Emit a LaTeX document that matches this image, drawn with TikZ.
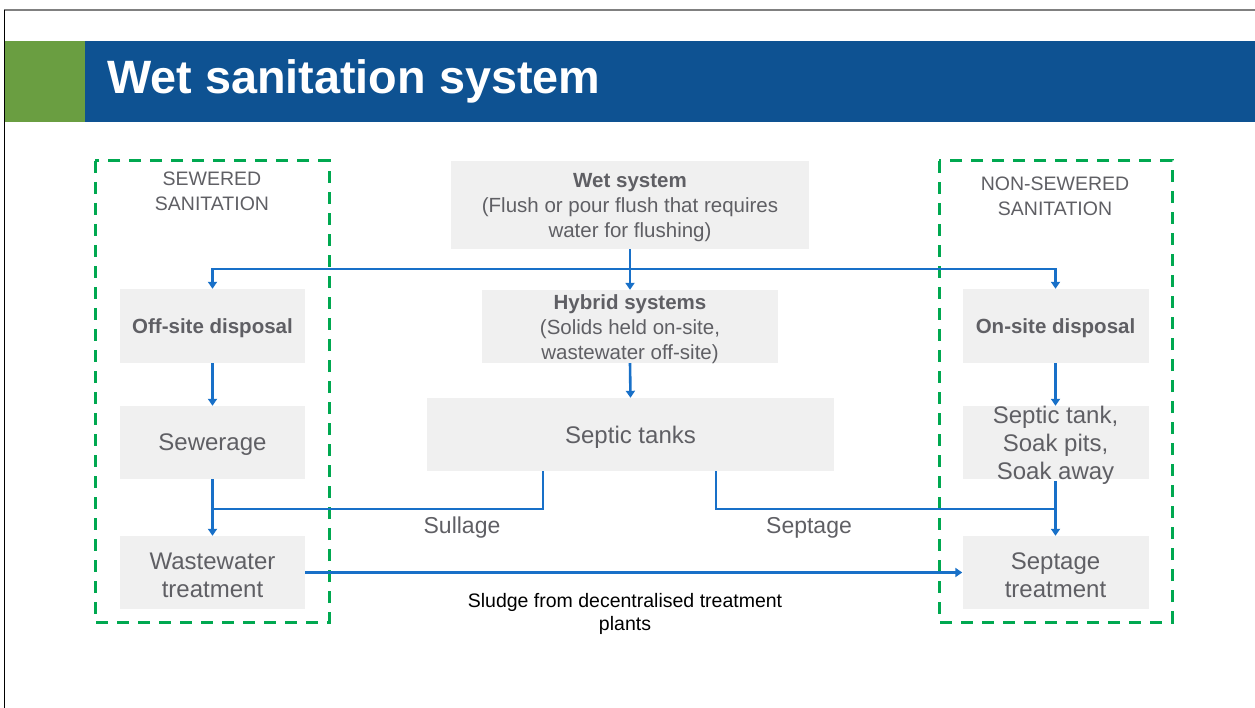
\documentclass[tikz,border=0pt]{standalone}
\usepackage{fontspec}
\setmainfont{Liberation Sans}
\usetikzlibrary{arrows.meta}
\definecolor{hblue}{RGB}{14,82,146}
\definecolor{hgreen}{RGB}{106,158,65}
\definecolor{dgreen}{RGB}{0,168,80}
\definecolor{boxgray}{RGB}{240,240,240}
\definecolor{txtgray}{RGB}{95,95,100}
\definecolor{cblue}{RGB}{24,112,200}
\begin{document}
\begin{tikzpicture}[x=1pt,y=-1pt,
  box/.style={fill=boxgray,draw=none,inner sep=0pt},
  fsmall/.style={font=\fontsize{20.5}{25}\selectfont},
  flarge/.style={font=\fontsize{24}{28}\selectfont},
  lbl/.style={inner sep=0pt,text=txtgray,align=center},
  btxt/.style={lbl,yshift=-2.5pt},
  conn/.style={draw=cblue,line width=2.6pt},
  arr/.style={conn,-{Triangle[width=9pt,length=7pt]}},
  region/.style={draw=dgreen,line width=3pt,dash pattern=on 12pt off 9pt}]
\useasboundingbox (0,0) rectangle (1255,708);
% frame
\draw[gray,line width=1.5pt] (4,10) -- (1255,10);
\draw[black,line width=1.5pt] (4.5,10) -- (4.5,708);
% header
\fill[hgreen] (5,41) rectangle (85,122);
\fill[hblue] (85,41) rectangle (1255,122);
\node[anchor=base west,inner sep=0pt,text=white,font=\bfseries\fontsize{46.8}{50}\selectfont] (title) at (107,94) {Wet sanitation system};
% regions
\draw[region] (95,161) rectangle (329,622);
\draw[region] (939,161) rectangle (1172,622);
\node[lbl,font=\fontsize{19.5}{25}\selectfont] (sewlbl) at (212,191.5) {SEWERED\\SANITATION};
\node[lbl,font=\fontsize{19.5}{25}\selectfont] (nonlbl) at (1055,196.5) {NON-SEWERED\\SANITATION};
% boxes
\node[box,minimum width=358pt,minimum height=88pt] (wet) at (630,205) {};
\node[box,minimum width=296pt,minimum height=73pt] (hyb) at (630,326.5) {};
\node[box,minimum width=407pt,minimum height=73pt] (sep) at (630.5,434.5) {};
\node[box,minimum width=185pt,minimum height=74pt] (off) at (212.5,326) {};
\node[box,minimum width=185pt,minimum height=73pt] (sew) at (212.5,442.5) {};
\node[box,minimum width=185pt,minimum height=73pt] (wwt) at (212.5,572.5) {};
\node[box,minimum width=186pt,minimum height=74pt] (on) at (1055.5,326) {};
\node[box,minimum width=186pt,minimum height=73pt] (soak) at (1055.5,442.5) {};
\node[box,minimum width=186pt,minimum height=73pt] (stt) at (1055.5,572.5) {};
% connectors
\coordinate (jc) at (630,269);
\coordinate (sl) at (543,471);
\coordinate (sr) at (716,471);
\coordinate (jl) at (212.5,509);
\coordinate (jr) at (1055.5,509);
\draw[conn] (wet.south) -- (jc);
\draw[arr] (jc) -| (off.north);
\draw[arr] (jc) -| (on.north);
\draw[arr] (jc) -- (hyb.north);
\draw[arr] (off.south) -- (sew.north);
\draw[arr] (hyb.south) -- (sep.north);
\draw[arr] (on.south) -- (soak.north);
\draw[arr] (sew.south) -- (wwt.north);
\draw[arr,shorten <=2pt] (soak.south) -- (stt.north);
\draw[conn] (sl) |- (jl);
\draw[conn] (sr) |- (jr);
\draw[arr] (wwt.east) -- (stt.west);
% box texts
\node[btxt,fsmall] (wett) at (wet) {\textbf{Wet system}\\(Flush or pour flush that requires\\water for flushing)};
\node[btxt,fsmall] (hybt) at (hyb) {\textbf{Hybrid systems}\\(Solids held on-site,\\wastewater off-site)};
\node[btxt,flarge] (sept1) at (sep) {Septic tanks};
\node[btxt,fsmall] (offt) at (off) {\textbf{Off-site disposal}};
\node[btxt,flarge] (sewt) at (sew) {Sewerage};
\node[btxt,flarge] (wwtt) at (wwt) {Wastewater\\treatment};
\node[btxt,fsmall] (ont) at (on) {\textbf{On-site disposal}};
\node[btxt,flarge] (soakt) at (soak) {Septic tank,\\Soak pits,\\Soak away};
\node[btxt,flarge] (sttt) at (stt) {Septage\\treatment};
% labels
\node[lbl,font=\fontsize{23}{25}\selectfont] (sull) at (462,527.5) {Sullage};
\node[lbl,font=\fontsize{23}{25}\selectfont] (sept) at (809,527.5) {Septage};
\node[lbl,text=black,font=\fontsize{19.5}{23}\selectfont] (sludge) at (625,614) {Sludge from decentralised treatment\\plants};
\end{tikzpicture}
\end{document}
